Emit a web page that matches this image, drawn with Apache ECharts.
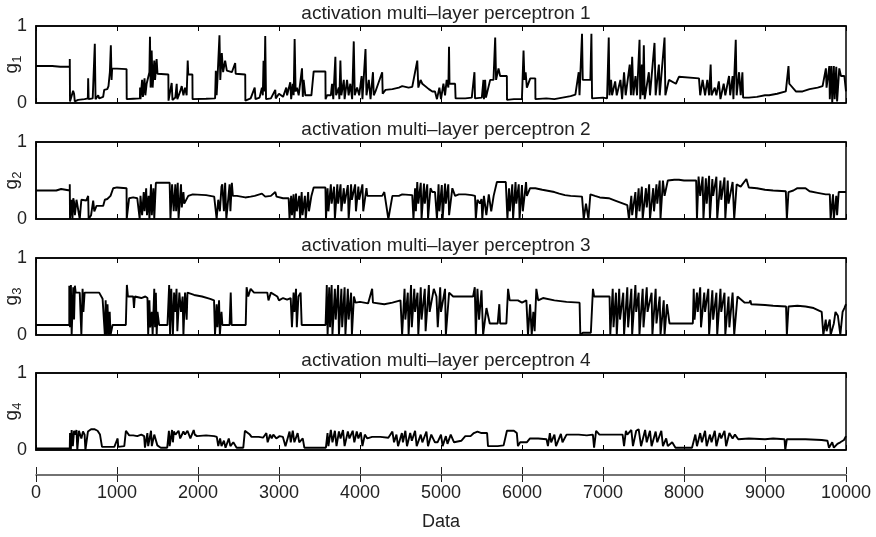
<!DOCTYPE html>
<html>
<head>
<meta charset="utf-8">
<script src="https://cdn.jsdelivr.net/npm/echarts@6/dist/echarts.min.js"></script>
<style>
  html, body { margin: 0; padding: 0; background: #fff; }
  #chart { width: 876px; height: 537px; }
</style>
</head>
<body>
<div id="chart"></div>
<script>
// x ticks for the shared Data axis
var dataTicks = [0, 1000, 2000, 3000, 4000, 5000, 6000, 7000, 8000, 9000, 10000];
var titles = ['activation multi–layer perceptron 1', 'activation multi–layer perceptron 2',
  'activation multi–layer perceptron 3', 'activation multi–layer perceptron 4'];
var yNames = ['1', '2', '3', '4'];

// activation g1 ([data index, activation])
var g1 = [[0,.48],[200,.48],[300,.47],[417,.47],[417,.57],[420,.02],[440,.03],[458,.16],[470,.12],[479,.02],[520,.04],[600,.05],[640,.06],[644,.32],[650,.05],[700,.06],[726,.77],[735,.05],[768,.1],[780,.06],[829,.08],[842,.17],[880,.18],[895,.22],[912,.4],[924,.75],[933,.3],[940,.45],[1118,.44],[1120,.05],[1200,.055],[1283,.06],[1285,.2],[1290,.05],[1310,.3],[1320,.08],[1340,.32],[1350,.1],[1366,.25],[1400,.4],[1407,.86],[1415,.2],[1428,.68],[1440,.2],[1460,.55],[1470,.3],[1489,.57],[1500,.38],[1634,.37],[1636,.03],[1660,.05],[1675,.26],[1685,.04],[1720,.07],[1737,.25],[1745,.05],[1780,.15],[1799,.22],[1820,.1],[1840,.2],[1860,.1],[1873,.55],[1880,.37],[1931,.37],[1933,.05],[2100,.055],[2211,.06],[2220,.42],[2230,.1],[2240,.3],[2265,.88],[2275,.3],[2294,.65],[2310,.4],[2335,.55],[2356,.42],[2418,.4],[2459,.52],[2465,.38],[2583,.37],[2585,.03],[2650,.06],[2700,.2],[2710,.05],[2760,.07],[2789,.2],[2800,.1],[2809,.55],[2820,.15],[2830,.87],[2840,.05],[2900,.06],[2954,.17],[2960,.06],[3000,.12],[3050,.08],[3090,.2],[3100,.1],[3139,.27],[3150,.05],[3170,.25],[3181,.1],[3193,.83],[3205,.15],[3222,.2],[3243,.1],[3284,.45],[3294,.08],[3304,.3],[3325,.1],[3400,.1],[3428,.41],[3573,.41],[3575,.05],[3593,.1],[3640,.1],[3655,.25],[3670,.05],[3696,.6],[3705,.1],[3738,.2],[3745,.05],[3758,.55],[3770,.1],[3800,.3],[3810,.05],[3840,.3],[3860,.1],[3880,.25],[3903,.05],[3923,.8],[3935,.1],[3964,.2],[3990,.1],[4020,.35],[4030,.05],[4068,.7],[4080,.1],[4109,.3],[4130,.05],[4160,.4],[4170,.1],[4191,.15],[4274,.4],[4280,.12],[4315,.17],[4400,.18],[4480,.2],[4521,.22],[4600,.2],[4645,.21],[4707,.55],[4720,.2],[4748,.3],[4769,.25],[4850,.18],[4893,.15],[4926,.15],[4950,.05],[4980,.2],[5000,.05],[5030,.25],[5050,.1],[5070,.3],[5091,.2],[5099,.73],[5105,.25],[5174,.25],[5180,.06],[5300,.06],[5380,.07],[5413,.4],[5420,.06],[5504,.07],[5524,.3],[5530,.05],[5545,.3],[5555,.07],[5607,.3],[5648,.3],[5669,.85],[5680,.3],[5710,.45],[5730,.35],[5813,.35],[5815,.04],[5900,.05],[5999,.05],[6019,.68],[6030,.3],[6045,.4],[6060,.2],[6102,.32],[6164,.32],[6166,.05],[6300,.06],[6400,.05],[6500,.07],[6600,.09],[6659,.11],[6700,.4],[6710,.1],[6741,.9],[6750,.3],[6844,.3],[6857,.9],[6865,.06],[7000,.07],[7050,.06],[7071,.85],[7080,.1],[7100,.3],[7112,.1],[7150,.28],[7170,.1],[7215,.3],[7236,.05],[7260,.4],[7280,.1],[7330,.5],[7345,.1],[7360,.6],[7375,.1],[7401,.35],[7420,.1],[7451,.82],[7460,.05],[7480,.5],[7490,.1],[7504,.75],[7515,.05],[7566,.4],[7580,.1],[7636,.78],[7650,.1],[7690,.5],[7700,.1],[7760,.85],[7770,.1],[7814,.3],[7830,.3],[7900,.25],[7937,.34],[8185,.32],[8200,.1],[8230,.3],[8260,.1],[8288,.3],[8309,.3],[8310,.1],[8329,.5],[8340,.1],[8380,.2],[8400,.1],[8430,.28],[8450,.05],[8490,.25],[8510,.1],[8556,.35],[8570,.1],[8600,.35],[8610,.05],[8639,.82],[8650,.1],[8680,.4],[8700,.1],[8721,.4],[8730,.07],[8800,.07],[8900,.08],[9000,.1],[9051,.1],[9150,.12],[9257,.15],[9290,.48],[9300,.25],[9319,.25],[9381,.15],[9464,.15],[9550,.18],[9650,.2],[9711,.22],[9752,.45],[9760,.2],[9794,.48],[9800,.05],[9820,.48],[9830,0],[9850,.48],[9860,.05],[9880,.47],[9890,.02],[9917,.45],[9938,.35],[9980,.35],[10000,.15]];

// activation g2
var g2 = [[0,.37],[150,.37],[250,.37],[310,.39],[320,.37],[417,.37],[417,.45],[420,0],[440,.25],[450,0],[460,.27],[470,.22],[480,.05],[500,.25],[520,.23],[540,0],[560,.25],[620,.24],[644,.3],[650,0],[680,.05],[706,.24],[720,.1],[747,.17],[800,.17],[829,.17],[850,.25],[880,.26],[920,.3],[953,.4],[1000,.41],[1118,.4],[1120,0],[1150,.27],[1200,.28],[1250,.27],[1280,0],[1290,.3],[1310,.05],[1330,.35],[1340,.1],[1360,.4],[1370,.05],[1390,.3],[1400,0],[1420,.45],[1430,.05],[1450,.4],[1460,0],[1480,.47],[1600,.47],[1650,.47],[1660,0],[1680,.45],[1700,.1],[1720,.45],[1730,.1],[1750,.47],[1760,0],[1790,.45],[1800,.15],[1820,.35],[1830,.2],[1880,.3],[1935,.32],[2100,.31],[2200,.29],[2211,.28],[2230,0],[2250,.25],[2270,.1],[2290,.42],[2300,.45],[2320,.1],[2335,.47],[2350,0],[2390,.45],[2400,.1],[2418,.47],[2430,.3],[2480,.3],[2583,.28],[2650,.29],[2700,.3],[2789,.33],[2830,.29],[2900,.3],[2954,.35],[2970,.29],[3050,.27],[3119,.27],[3130,0],[3150,.3],[3160,.05],[3180,.32],[3190,0],[3210,.33],[3220,.1],[3250,.3],[3260,0],[3280,.35],[3290,.05],[3320,.3],[3330,0],[3360,.35],[3370,.1],[3400,.3],[3428,.41],[3573,.41],[3580,0],[3600,.4],[3610,.1],[3640,.45],[3650,.2],[3680,.42],[3690,0],[3720,.45],[3730,.2],[3760,.45],[3770,.1],[3800,.4],[3810,.2],[3850,.44],[3860,0],[3890,.45],[3900,.25],[3940,.45],[3950,.1],[3980,.42],[3990,.25],[4030,.45],[4040,.1],[4080,.4],[4090,.3],[4130,.3],[4191,.3],[4274,.3],[4300,.35],[4350,0],[4400,.3],[4480,.3],[4521,.32],[4645,.31],[4660,0],[4680,.4],[4690,.1],[4707,.48],[4720,.2],[4750,.47],[4760,0],[4790,.46],[4800,.2],[4830,.45],[4840,0],[4870,.4],[4893,.35],[4926,.35],[4950,0],[4970,.45],[4980,.1],[5010,.44],[5020,0],[5050,.46],[5060,.2],[5090,.45],[5100,.05],[5140,.4],[5174,.3],[5220,.32],[5300,.32],[5380,.31],[5420,.3],[5430,0],[5450,.25],[5480,.2],[5500,.26],[5510,0],[5530,.3],[5545,.3],[5560,.05],[5590,.32],[5620,.1],[5650,.3],[5690,.48],[5800,.48],[5813,.48],[5820,0],[5840,.4],[5850,.1],[5880,.45],[5890,0],[5920,.48],[5930,.2],[5960,.45],[5970,0],[6000,.44],[6010,.1],[6050,.48],[6060,.3],[6100,.4],[6164,.4],[6250,.38],[6300,.37],[6400,.35],[6460,.33],[6530,.31],[6600,.3],[6741,.29],[6762,0],[6790,.2],[6820,0],[6844,.32],[6900,.3],[6960,.28],[7071,.27],[7150,.24],[7200,.22],[7250,.2],[7300,.18],[7320,0],[7350,.3],[7360,.05],[7400,.35],[7410,0],[7440,.4],[7450,.1],[7480,.42],[7490,0],[7530,.4],[7540,.15],[7570,.45],[7580,0],[7620,.4],[7630,.1],[7660,.45],[7670,.2],[7700,.5],[7710,0],[7740,.5],[7760,.3],[7800,.5],[7880,.51],[7937,.51],[8000,.5],[8150,.5],[8160,0],[8180,.55],[8200,.3],[8230,.55],[8240,0],[8270,.53],[8280,.2],[8310,.56],[8320,0],[8350,.52],[8360,.3],[8400,.55],[8410,0],[8450,.5],[8460,.25],[8500,.54],[8510,0],[8540,.5],[8550,.2],[8600,.48],[8620,0],[8650,.45],[8700,.42],[8770,.52],[8800,.41],[8900,.4],[9000,.38],[9100,.37],[9257,.36],[9270,0],[9290,.35],[9350,.37],[9400,.4],[9500,.4],[9550,.36],[9650,.34],[9750,.32],[9800,.32],[9810,0],[9840,.32],[9850,0],[9880,.3],[9890,.05],[9910,.35],[10000,.35]];

// activation g3
var g3 = [[0,.13],[200,.13],[411,.13],[411,.64],[420,.1],[431,.65],[440,0],[460,.62],[470,.2],[480,.64],[490,.55],[540,.55],[554,.56],[560,0],[575,.6],[585,.3],[600,.55],[678,.55],[700,.53],[780,.55],[801,.54],[822,.47],[840,.45],[850,0],[860,.45],[870,0],[883,.4],[895,0],[910,.3],[920,0],[945,.13],[1109,.13],[1122,.65],[1135,.5],[1200,.5],[1210,.35],[1220,.5],[1300,.48],[1350,.5],[1376,.48],[1385,0],[1400,.45],[1410,.1],[1430,.3],[1440,0],[1460,.6],[1470,.1],[1480,.55],[1490,0],[1500,.3],[1520,.13],[1623,.13],[1644,.65],[1655,0],[1670,.6],[1685,.6],[1690,0],[1705,.55],[1720,.3],[1735,.6],[1745,.05],[1770,.55],[1790,.3],[1810,.5],[1820,0],[1840,.55],[1860,.2],[1870,.55],[1952,.52],[2050,.5],[2150,.47],[2198,.45],[2210,0],[2230,.4],[2240,.1],[2260,.45],[2270,0],[2290,.3],[2301,.13],[2390,.13],[2404,.55],[2415,.13],[2589,.13],[2600,.62],[2620,.5],[2650,.6],[2692,.55],[2800,.55],[2856,.55],[2870,.45],[2900,.55],[2979,.5],[3000,.45],[3050,.48],[3100,.46],[3144,.48],[3160,.1],[3180,.55],[3190,.3],[3210,.6],[3220,.1],[3240,.5],[3267,.55],[3280,.13],[3575,.13],[3590,.65],[3600,0],[3620,.62],[3630,.1],[3650,.65],[3660,0],[3690,.6],[3700,.2],[3730,.65],[3740,0],[3770,.6],[3780,.1],[3810,.62],[3820,0],[3850,.6],[3860,.2],[3890,.55],[3900,0],[3925,.5],[3945,.42],[4000,.43],[4100,.41],[4150,.6],[4160,.42],[4300,.4],[4400,.42],[4500,.45],[4520,0],[4550,.6],[4560,.2],[4590,.55],[4600,0],[4630,.65],[4640,.1],[4670,.6],[4680,.3],[4710,.55],[4720,0],[4750,.62],[4760,.2],[4800,.6],[4810,.05],[4850,.65],[4860,.3],[4911,.6],[4944,.5],[4960,.1],[4990,.62],[5000,.3],[5050,.6],[5060,0],[5100,.55],[5150,.5],[5170,.5],[5300,.5],[5396,.5],[5417,.62],[5430,0],[5450,.6],[5470,.2],[5500,.58],[5520,0],[5561,.35],[5602,.15],[5700,.15],[5720,.4],[5730,.15],[5807,.15],[5828,.6],[5848,.45],[5950,.45],[6000,.42],[6054,.45],[6074,0],[6100,.4],[6120,0],[6140,.3],[6156,.05],[6177,.6],[6200,.45],[6259,.48],[6400,.45],[6550,.43],[6711,.42],[6720,0],[6752,.03],[6850,.03],[6876,.6],[6890,.5],[7081,.5],[7090,0],[7120,.6],[7130,.1],[7160,.55],[7170,0],[7200,.6],[7210,.2],[7250,.55],[7260,0],[7300,.62],[7310,.1],[7350,.6],[7360,0],[7400,.65],[7410,.3],[7440,.55],[7450,0],[7490,.6],[7500,.1],[7540,.62],[7550,.3],[7600,.55],[7610,0],[7650,.6],[7660,.15],[7700,.5],[7710,0],[7750,.45],[7760,0],[7790,.4],[7821,.15],[7903,.15],[8000,.15],[8109,.15],[8120,.6],[8130,.2],[8160,.55],[8170,.3],[8200,.62],[8210,.1],[8250,.55],[8260,.3],[8300,.6],[8310,0],[8350,.58],[8360,.2],[8400,.55],[8410,0],[8450,.6],[8460,.3],[8500,.55],[8510,0],[8550,.5],[8560,.1],[8600,.55],[8620,0],[8660,.5],[8684,.5],[8750,.42],[8807,.42],[8820,.45],[8830,.4],[9000,.39],[9100,.38],[9260,.37],[9270,0],[9290,.37],[9400,.38],[9500,.37],[9600,.35],[9700,.3],[9712,.32],[9720,0],[9750,.2],[9760,.05],[9800,.2],[9810,0],[9850,.15],[9870,.3],[9900,.25],[9930,0],[9958,.3],[9980,.35],[10000,.4]];

// activation g4
var g4 = [[0,.02],[200,.02],[417,.02],[420,.22],[430,0],[440,.26],[455,.05],[470,.25],[480,.2],[500,.26],[510,0],[530,.25],[560,.15],[580,.24],[600,.2],[610,0],[641,.24],[680,.27],[720,.27],[760,.25],[790,.2],[804,.18],[815,.04],[845,.04],[967,.04],[1008,.15],[1015,.04],[1090,.05],[1110,.25],[1151,.19],[1200,.19],[1250,.18],[1300,.2],[1335,.18],[1345,.03],[1375,.22],[1385,.05],[1420,.25],[1430,.05],[1460,.2],[1498,.06],[1540,.03],[1620,.03],[1641,.25],[1650,.05],[1680,.26],[1690,.1],[1702,.24],[1722,.2],[1760,.25],[1780,.15],[1820,.24],[1840,.2],[1870,.25],[1906,.15],[1947,.26],[1960,.2],[1987,.18],[2100,.19],[2200,.18],[2232,.17],[2250,.05],[2273,.15],[2290,.05],[2320,.12],[2340,.03],[2380,.15],[2400,.05],[2436,.1],[2477,.03],[2559,.03],[2579,.25],[2600,.24],[2640,.2],[2661,.17],[2750,.17],[2803,.16],[2844,.22],[2860,.1],[2890,.2],[2910,.15],[2930,.2],[2967,.15],[3007,.18],[3048,.17],[3080,.05],[3130,.24],[3145,.1],[3170,.25],[3190,.1],[3230,.22],[3250,.1],[3293,.15],[3313,.03],[3579,.03],[3599,.22],[3610,.05],[3640,.26],[3660,.1],[3690,.25],[3710,.05],[3740,.24],[3760,.15],[3790,.26],[3810,.05],[3850,.24],[3870,.15],[3910,.25],[3930,.1],[3960,.24],[3980,.15],[4010,.23],[4030,.05],[4060,.2],[4090,.15],[4150,.17],[4250,.17],[4350,.16],[4400,.24],[4420,.1],[4450,.2],[4470,.05],[4517,.22],[4530,.1],[4560,.25],[4580,.05],[4620,.22],[4640,.12],[4680,.25],[4700,.05],[4750,.2],[4770,.1],[4820,.24],[4840,.05],[4880,.2],[4925,.1],[4957,.1],[5000,.2],[5020,.05],[5060,.18],[5080,.08],[5120,.2],[5161,.1],[5181,.1],[5250,.12],[5300,.18],[5365,.18],[5406,.22],[5450,.24],[5500,.22],[5569,.22],[5580,.05],[5700,.05],[5773,.06],[5814,.25],[5900,.25],[5936,.22],[5950,.05],[5977,.1],[6059,.1],[6099,.15],[6200,.15],[6303,.14],[6320,.05],[6344,.22],[6360,.1],[6400,.2],[6420,.05],[6480,.21],[6500,.1],[6550,.2],[6589,.2],[6700,.2],[6800,.19],[6875,.2],[6890,.03],[6915,.25],[6956,.2],[7100,.2],[7242,.2],[7260,.05],[7283,.25],[7300,.2],[7350,.26],[7370,.05],[7410,.25],[7440,.27],[7470,.05],[7520,.26],[7540,.1],[7580,.25],[7600,.05],[7650,.24],[7670,.1],[7720,.25],[7740,.05],[7780,.15],[7800,.05],[7854,.1],[7895,.03],[8099,.03],[8140,.2],[8160,.05],[8200,.22],[8221,.1],[8260,.25],[8280,.05],[8320,.2],[8340,.1],[8380,.25],[8400,.05],[8440,.22],[8460,.15],[8500,.25],[8520,.05],[8560,.22],[8600,.15],[8629,.2],[8670,.14],[8800,.15],[9000,.14],[9100,.15],[9241,.14],[9250,0],[9270,.14],[9500,.14],[9700,.13],[9771,.12],[9790,.03],[9830,.1],[9850,.03],[9894,.08],[9930,.1],[9975,.13],[10000,.18]];

var seriesData = [g1, g2, g3, g4];

var font = 'Liberation Sans, Arial, Helvetica, sans-serif';
var chart = echarts.init(document.getElementById('chart'));

var boxTops = [26, 142, 258, 373];
var boxH = 77;
var L = 36, R = 30;

var grids = [], xAxes = [], yAxes = [], series = [], titleList = [];
boxTops.forEach(function (top, i) {
  grids.push({left: L, right: R, top: top, height: boxH, show: true, borderColor: '#000', borderWidth: 1.5,
    outerBoundsMode: 'none', containLabel: false});
  // bottom and top x axes, ticks inward like matlab
  ['bottom', 'top'].forEach(function (pos) {
    xAxes.push({
      type: 'value', gridIndex: i, position: pos, min: 0, max: 10000, interval: 1000,
      axisLine: {show: true, onZero: false, lineStyle: {color: '#000', width: 1.5}},
      axisTick: {show: true, inside: true, length: 5, lineStyle: {color: '#000', width: 1}},
      axisLabel: {show: false}, splitLine: {show: false}
    });
  });
  yAxes.push({
    type: 'value', gridIndex: i, min: 0, max: 1, interval: 1,
    axisLine: {show: true, lineStyle: {color: '#000', width: 1.5}}, axisTick: {show: false}, splitLine: {show: false},
    axisLabel: {fontSize: 18, color: '#222', fontFamily: font, margin: 9},
    name: '{g|g}{s|' + yNames[i] + '}', nameLocation: 'middle', nameGap: 12, nameRotate: 90,
    nameMoveOverlap: false,
    nameTextStyle: {
      rich: {
        g: {fontSize: 19, color: '#222', fontFamily: font, lineHeight: 24, verticalAlign: 'middle'},
        s: {fontSize: 13, color: '#222', fontFamily: font, lineHeight: 24, verticalAlign: 'bottom'}
      }
    }
  });
  series.push({
    type: 'line', xAxisIndex: i * 2, yAxisIndex: i, data: seriesData[i],
    showSymbol: false, sampling: false,
    lineStyle: {color: '#000', width: 1.9}, z: 3
  });
  titleList.push({
    text: titles[i], left: 441, textAlign: 'center', top: top - 27,
    textStyle: {fontSize: 19, fontWeight: 'normal', color: '#222', fontFamily: font}
  });
});

// separate Data axis at the bottom
grids.push({left: L, right: R, top: 474, height: 1, outerBoundsMode: 'none', containLabel: false});
xAxes.push({
  type: 'value', gridIndex: 4, position: 'bottom', min: 0, max: 10000, interval: 1000,
  axisLine: {show: true, onZero: false, lineStyle: {color: '#444', width: 1.5}},
  axisTick: {show: true, length: 7, lineStyle: {color: '#222', width: 1}},
  axisLabel: {fontSize: 18, color: '#222', fontFamily: font, margin: 9,
    customValues: dataTicks, formatter: function (v) { return String(v); }},
  splitLine: {show: false},
  name: 'Data', nameLocation: 'middle', nameGap: 38, nameMoveOverlap: false,
  nameTextStyle: {fontSize: 18, color: '#222', fontFamily: font}
});
xAxes.push({
  type: 'value', gridIndex: 4, position: 'top', min: 0, max: 10000, interval: 1000,
  axisLine: {show: false, onZero: false},
  axisTick: {show: true, length: 7, lineStyle: {color: '#222', width: 1}},
  axisLabel: {show: false}, splitLine: {show: false}
});
yAxes.push({type: 'value', gridIndex: 4, show: false, min: 0, max: 1});

chart.setOption({
  animation: false,
  backgroundColor: '#fff',
  title: titleList,
  grid: grids,
  xAxis: xAxes,
  yAxis: yAxes,
  series: series
});
</script>
</body>
</html>
